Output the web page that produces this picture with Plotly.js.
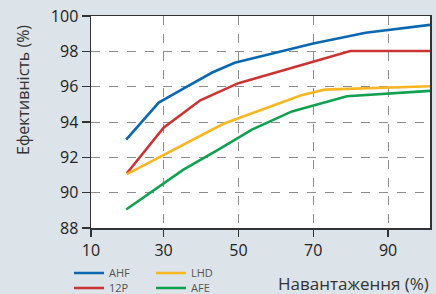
<!DOCTYPE html>
<html><head><meta charset="utf-8">
<script src="https://cdn.plot.ly/plotly-3.0.1.min.js"></script>
<style>html,body{margin:0;padding:0;background:#dce3e9;}#chart{width:436px;height:294px;}</style>
</head><body><div id="chart"></div>
<script>
const seriesNames = ['AHF', '12P', 'LHD', 'AFE'];
const seriesColors = ['#0b68b0', '#cc3333', '#f8b622', '#10a150'];
const ahfX = [20, 28.7, 36, 43, 49, 64, 70, 84, 90, 101.2];
const ahfY = [93.0, 95.1, 95.97, 96.8, 97.35, 98.15, 98.44, 99.05, 99.2, 99.5];
const p12X = [20.2, 30, 39.8, 50, 79.9, 101.2];
const p12Y = [91.1, 93.68, 95.23, 96.2, 98.02, 98.02];
const lhdX = [20.2, 30, 46, 66.6, 73, 101.2];
const lhdY = [91.05, 92.15, 93.9, 95.5, 95.83, 96.02];
const afeX = [20, 30, 35.3, 44.3, 53.6, 64.3, 79, 101.2];
const afeY = [89.05, 90.5, 91.3, 92.4, 93.57, 94.6, 95.46, 95.76];
const xTickVals = [10.6, 30, 50, 70, 90];
const xTickText = ['10', '30', '50', '70', '90'];
const yTickVals = [88, 90, 92, 94, 96, 98, 100];
const xTitle = 'Навантаження (%)';
const yTitle = 'Ефективність (%)';

const W = 436, H = 294, ML = 91, MR = 6, MT = 16, MB = 66;
const PW = W - ML - MR, PH = H - MT - MB;
const px = x => (x - ML) / PW;
const py = y => (H - MB - y) / PH;

const xs = [ahfX, p12X, lhdX, afeX];
const ys = [ahfY, p12Y, lhdY, afeY];
const legendIds = ['legend', 'legend3', 'legend2', 'legend4'];
const traces = seriesNames.map((n, i) => ({
  x: xs[i], y: ys[i], name: n, type: 'scatter', mode: 'lines',
  line: {color: seriesColors[i], width: 2.6},
  legend: legendIds[i], showlegend: true
}));

const legFont = {family: 'Open Sans, sans-serif', size: 11, color: '#555'};
function leg(x, y) {
  return {xref: 'paper', yref: 'paper', x: px(x), y: py(y),
    xanchor: 'left', yanchor: 'middle', bgcolor: 'rgba(0,0,0,0)', borderwidth: 0,
    font: legFont, itemwidth: 30};
}

const axFont = {family: 'Open Sans, sans-serif', size: 16, color: '#222'};
const layout = {
  width: W, height: H,
  paper_bgcolor: '#dce3e9', plot_bgcolor: '#ffffff',
  margin: {l: ML, r: MR, t: MT, b: MB, autoexpand: false},
  showlegend: true,
  xaxis: {range: [10.6, 101.2], tickvals: xTickVals, ticktext: xTickText,
    showgrid: true, gridcolor: '#8c8c8c', griddash: 'dash', gridwidth: 1,
    showline: true, linecolor: '#333', linewidth: 1.5, mirror: true,
    ticks: 'outside', ticklen: 7, tickcolor: '#333', tickwidth: 1.5,
    tickfont: axFont, zeroline: false, fixedrange: true, automargin: false},
  yaxis: {range: [88, 100], tickvals: yTickVals,
    showgrid: true, gridcolor: '#8c8c8c', griddash: 'dash', gridwidth: 1,
    showline: true, linecolor: '#333', linewidth: 1.5, mirror: true,
    ticks: 'outside', ticklen: 8, tickcolor: '#333', tickwidth: 1.5,
    tickfont: axFont, zeroline: false, fixedrange: true, automargin: false},
  legend: leg(69, 273),
  legend2: leg(151, 273),
  legend3: leg(69, 288),
  legend4: leg(151, 288),
  annotations: [
    {text: xTitle, xref: 'paper', yref: 'paper', x: px(431), y: py(283),
     xanchor: 'right', yanchor: 'middle', showarrow: false,
     font: {family: 'Open Sans, sans-serif', size: 17, color: '#333'}},
    {text: yTitle, xref: 'paper', yref: 'paper', x: px(23), y: py(90),
     xanchor: 'center', yanchor: 'middle', textangle: -90, showarrow: false,
     font: {family: 'Open Sans, sans-serif', size: 16, color: '#333'}}
  ]
};
Plotly.newPlot('chart', traces, layout, {displayModeBar: false, staticPlot: true});
</script></body></html>
